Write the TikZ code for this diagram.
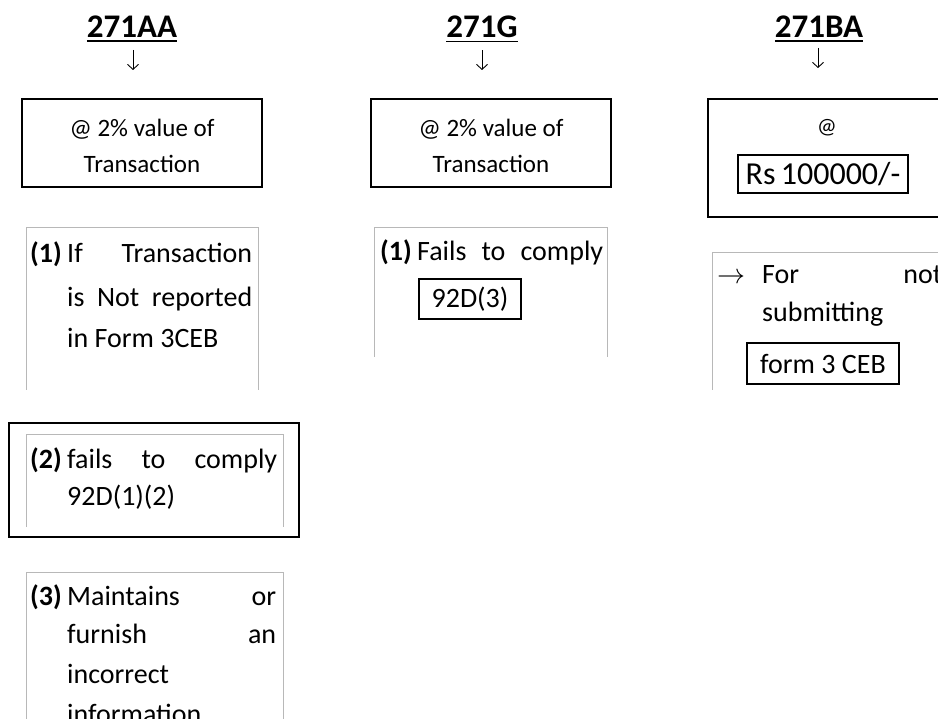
\RequirePackage{fix-cm}
\documentclass[tikz,border=0pt]{standalone}
\usepackage{fontspec}
\setmainfont{Carlito}
\usetikzlibrary{arrows.meta}
\tikzset{
  heading/.style={font=\fontsize{33}{33}\selectfont\bfseries, inner sep=0pt, outer sep=0pt, anchor=base},
  ratebox/.style={draw=black, line width=2pt, inner sep=0pt},
  txt/.style={font=\fontsize{25}{25}\selectfont, inner sep=0pt, anchor=base},
  ctxt/.style={font=\fontsize{28}{28}\selectfont, inner sep=0pt, anchor=base west},
  num/.style={font=\fontsize{28}{28}\selectfont\bfseries, inner sep=0pt, anchor=base west},
  tagbox/.style={draw=black, line width=1.4pt, font=\fontsize{28}{28}\selectfont, inner sep=0pt},
  cframe/.style={draw=black!28, line width=1pt},
  downarrow/.style={-{Straight Barb[length=5pt,width=11pt]}, line width=0.9pt},
  uline/.style={line width=1.3pt},
}
\begin{document}
\begin{tikzpicture}[x=1pt, y=-1pt]
\useasboundingbox (0,0) rectangle (938,719);
\clip (0,0) rectangle (938,719);

% headings
\node[heading] (h1) at (132,38) {271AA};
\node[heading] (h2) at (482,38) {271G};
\node[heading] (h3) at (819,38) {271BA};
\draw[uline] ([yshift=-3pt]h1.south west) -- ([yshift=-3pt]h1.south east);
\draw[uline] ([yshift=-3pt]h2.south west) -- ([yshift=-3pt]h2.south east);
\draw[uline] ([yshift=-3pt]h3.south west) -- ([yshift=-3pt]h3.south east);

% small arrows
\coordinate (a1) at (133,70);
\coordinate (a2) at (482,70);
\coordinate (a3) at (818,68);
\draw[downarrow] ([yshift=-12pt]h1.south -| a1) -- (a1);
\draw[downarrow] ([yshift=-12pt]h2.south -| a2) -- (a2);
\draw[downarrow] ([yshift=-10pt]h3.south -| a3) -- (a3);

% rate boxes
\node[ratebox, minimum width=240pt, minimum height=88pt] (r1) at (142,143) {};
\node[txt] (r1a) at (142,137) {@ 2\% value of};
\node[txt] (r1b) at (142,173) {Transaction};

\node[ratebox, minimum width=240pt, minimum height=88pt] (r2) at (491,143) {};
\node[txt] (r2a) at (491,137) {@ 2\% value of};
\node[txt] (r2b) at (491,173) {Transaction};

\node[ratebox, minimum width=252pt, minimum height=118pt] (r3) at (834,158) {};
\node[font=\fontsize{22}{22}\selectfont, inner sep=0pt, anchor=base] (r3a) at (827,134) {@};
\node[tagbox, minimum width=170pt, minimum height=38pt, font=\fontsize{32}{32}\selectfont] (r3b) at (823,174) {Rs\,100000/-};

% condition box 271AA (1)
\draw[cframe] (26,390) -- (26,228) -- (258,228) -- (258,390);
\node[num] (c1n) at (30,263) {(1)};
\node[ctxt] (c1a) at (67,263) {\makebox[185pt][s]{If Transaction}};
\node[ctxt] (c1b) at (67,307) {\makebox[185pt][s]{is Not reported}};
\node[ctxt] (c1c) at (67,348) {in Form 3CEB};

% condition box 271G
\draw[cframe] (374,357) -- (374,228) -- (607,228) -- (607,357);
\node[num] (g1n) at (380,261) {(1)};
\node[ctxt] (g1a) at (417,261) {\makebox[186pt][s]{Fails to comply}};
\node[tagbox, minimum width=102pt, minimum height=40pt] (g92) at (470,299) {92D(3)};

% condition box 271BA
\draw[cframe] (712,390) -- (712,253) -- (960,253);
\node[ctxt] (bar) at (717,284) {$\rightarrow$};
\node[ctxt] (b1a) at (762,284) {\makebox[180pt][s]{For not}};
\node[ctxt] (b1b) at (762,322) {submitting};
\node[tagbox, minimum width=152pt, minimum height=41pt] (bform) at (823,363.5) {form 3 CEB};

% box (2)
\node[ratebox, minimum width=290pt, minimum height=114pt] (b2) at (154,480) {};
\draw[cframe] (26,527) -- (26,435) -- (283,435) -- (283,527);
\node[num] (c2n) at (30,468) {(2)};
\node[ctxt] (c2a) at (67,468) {\makebox[210pt][s]{fails to comply}};
\node[ctxt] (c2b) at (67,505) {92D(1)(2)};

% box (3)
\draw[cframe] (26,730) -- (26,572) -- (283,572) -- (283,730);
\node[num] (c3n) at (30,605) {(3)};
\node[ctxt] (c3a) at (67,605) {\makebox[209pt][s]{Maintains or}};
\node[ctxt] (c3b) at (67,643) {\makebox[209pt][s]{furnish an}};
\node[ctxt] (c3c) at (67,683) {incorrect};
\node[ctxt] (c3d) at (67,723) {information};
\end{tikzpicture}
\end{document}
